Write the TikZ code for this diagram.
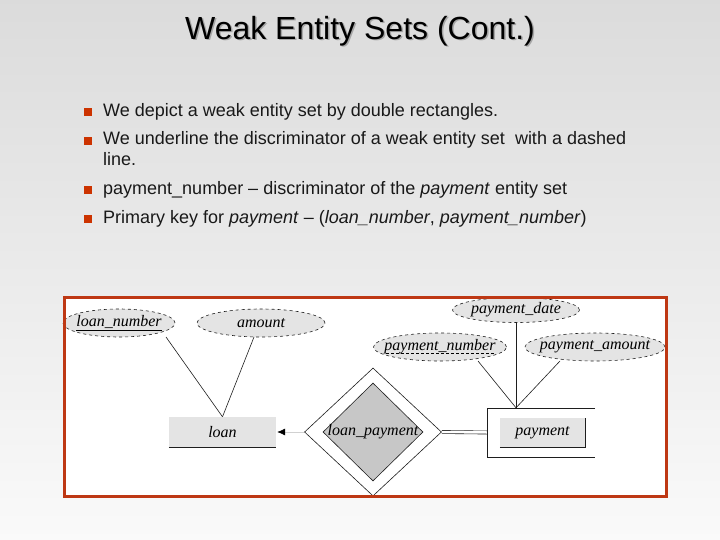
\documentclass[tikz,border=0pt]{standalone}
\usepackage{fontspec}
\setmainfont{Liberation Sans}
\newfontfamily\erfont{Liberation Serif}
\usepackage{xcolor}
\usepackage{tikz}
\usetikzlibrary{arrows.meta,shapes.geometric}
\definecolor{bulletcol}{RGB}{204,51,0}
\definecolor{framecol}{RGB}{190,56,20}
\definecolor{attrfill}{RGB}{228,228,228}
\definecolor{erline}{RGB}{30,30,30}
\newcommand\dashunder[1]{\setbox0\hbox{#1}\rlap{\raisebox{-3pt}{\hbox to \wd0{%
  \cleaders\hbox to 5pt{\hss\rule{3pt}{0.5pt}\hss}\hfill}}}\box0}
\newcommand\attrtext[1]{\makebox[0pt]{#1}}
\tikzset{
  bullet/.style={fill=bulletcol,minimum size=8pt,inner sep=0pt},
  itemtext/.style={anchor=west,inner sep=0pt,font=\fontsize{18}{21}\selectfont,
    text=black!90,align=left},
  attr/.style={ellipse,draw=erline,dashed,fill=attrfill,line width=0.6pt,
    inner sep=0pt,minimum height=28pt,font=\erfont\itshape\fontsize{16}{16}\selectfont},
  entity/.style={fill=attrfill,inner sep=0pt,font=\erfont\itshape\fontsize{16}{16}\selectfont},
  link/.style={draw=erline,line width=0.6pt}
}

\begin{document}
\begin{tikzpicture}[x=1pt,y=-1pt]
  % slide background
  \shade[top color=black!14,bottom color=black!2] (0,0) rectangle (720,540);
  \useasboundingbox (0,0) rectangle (720,540);

  % title
  \node[font=\fontsize{32}{32}\selectfont,text=black!35] (titleshadow) at (361.5,32.5)
    {Weak Entity Sets (Cont.)};
  \node[font=\fontsize{32}{32}\selectfont] (title) at (360,31) {Weak Entity Sets (Cont.)};

  % bullet list
  \node[bullet] (b1) at (88,112) {};
  \node[itemtext] (t1) at (103,112) {We depict a weak entity set by double rectangles.};
  \node[bullet] (b2) at (88,141) {};
  \node[itemtext,anchor=north west] (t2) at (103,131)
    {We underline the discriminator of a weak entity set\ \ with a dashed\\line.};
  \node[bullet] (b3) at (88,190) {};
  \node[itemtext] (t3) at (103,190)
    {payment\_number -- discriminator of the \textit{payment} entity set};
  \node[bullet] (b4) at (88,219) {};
  \node[itemtext] (t4) at (103,219)
    {Primary key for \textit{payment} -- (\textit{loan\_number}, \textit{payment\_number})};

  % E-R diagram panel
  \fill[white] (64,297) rectangle (666,496);

  % loan side
  \node[attr,minimum width=112pt] (lnum) at (119,323) {\attrtext{\underline{loan\_number}}};
  \node[attr,minimum width=128pt] (amt) at (261,323) {\attrtext{amount}};
  \node[entity,minimum width=107pt,minimum height=30pt] (loan) at (222.5,432) {loan};
  \draw[link] (loan.south west) -- (loan.south east);
  \draw[link] (lnum) ++(47,14) coordinate (lnumfoot) -- (loan.north);
  \draw[link] (amt) ++(-7,14) coordinate (amtfoot) -- (loan.north);

  % identifying relationship
  \node[diamond,fill=black!22,draw=erline,line width=0.6pt,inner sep=0pt,
    minimum width=100pt,minimum height=98pt] (lpin) at (373,432) {};
  \node[diamond,draw=erline,line width=0.6pt,inner sep=0pt,
    minimum width=137pt,minimum height=128pt,
    font=\erfont\itshape\fontsize{16}{16}\selectfont] (lp) at (373,432) {loan\_payment};
  \draw[black!18,line width=0.5pt,
    -{Latex[length=8pt,width=7pt,color=black]}] (lp.west) -- ([xshift=1pt]loan.east);

  % weak entity payment
  \node[minimum width=108pt,minimum height=49pt,inner sep=0pt] (payouter) at (541,432.5) {};
  \draw[link] (payouter.north east) -- (payouter.north west)
    -- (payouter.south west) -- (payouter.south east);
  \node[entity,minimum width=85pt,minimum height=29pt] (pay) at (542.5,432.5) {payment};
  \draw[link] (pay.south west) -- (pay.south east) -- (pay.north east);
  \draw[erline,line width=0.6pt,double,double distance=2.5pt] (lp.east) -- (payouter.west);

  \node[attr,minimum width=127pt,minimum height=25pt] (pdate) at (516,310)
    {\attrtext{payment\_date}};
  \node[attr,minimum width=133pt] (pnum) at (440,347) {\attrtext{\dashunder{payment\_number}}};
  \node[attr,minimum width=140pt] (pamt) at (595,347) {\attrtext{payment\_amount}};
  \draw[link] (pnum) ++(38,14) coordinate (pnumfoot) -- (payouter.north -| pdate);
  \draw[link] (pdate.south) -- (payouter.north -| pdate);
  \draw[link] (pamt) ++(-35,14) coordinate (pamtfoot) -- (payouter.north -| pdate);

  % panel frame
  \draw[framecol,line width=3pt] (64,297) rectangle (666,496);
\end{tikzpicture}
\end{document}
